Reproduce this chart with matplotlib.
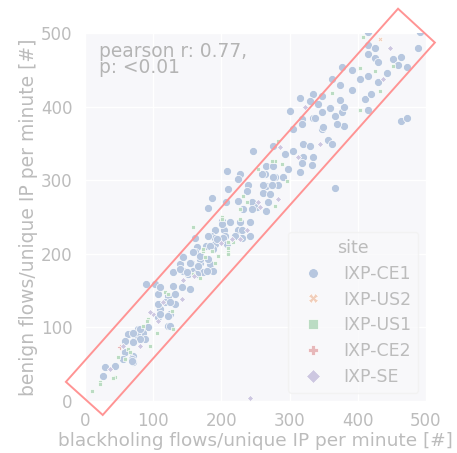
import matplotlib
matplotlib.use("Agg")
import matplotlib.pyplot as plt
import numpy as np
from matplotlib.lines import Line2D

# ---------------- data ----------------
sites = ["IXP-CE1", "IXP-US2", "IXP-US1", "IXP-CE2", "IXP-SE"]

ce1_x = [142,139,156,169,144,129,151,166,90,103,129,142,154,107,122,117,132,110,125,107,122,92,78,85,63,73,88,59,70,44,29,26,69,
         76,110,70,
         247,208,227,224,210,186,181,239,237,224,245,266,264,279,283,266,261,271,268,252,266,201,213,227,191,204,224,161,185,191,205,230,164,178,191,188,161,144,168,183,158,173,188,
         415,491,415,425,488,415,425,430,452,464,459,472,443,430,415,403,391,377,374,391,362,334,347,330,315,342,301,318,334,347,359,377,380,374,366,380,370,347,318,305,410,415,420,463,472,356,362,320,330,276,293,305,320,334,333,318,276,290,298,315,
         337,349,261,274,259,276,367,
         207,232,245,201,242,230,242,220,202,193,180,208,183,168,158,154,166,180,139,149,164,179,
         107,125,132,110,122,125,81,70,81,70,59,69,56]
ce1_y = [197,186,188,188,177,175,172,175,159,159,156,155,152,145,143,134,132,125,118,114,102,100,98,93,91,84,84,66,61,48,46,34,57,
         89,155,53,
         339,312,308,301,288,276,262,294,285,272,270,319,308,305,294,292,283,281,270,263,258,244,243,243,233,233,233,222,224,222,224,222,209,210,213,206,202,195,193,186,177,175,177,
         501,501,484,480,480,471,466,461,464,468,457,454,446,434,441,437,450,454,430,423,437,417,414,407,412,403,394,383,385,392,398,393,400,409,387,373,376,369,376,369,410,396,417,380,385,355,349,349,346,346,335,339,332,332,321,324,305,305,315,311,
         384,372,294,294,308,319,289,
         271,261,261,240,243,233,224,224,222,220,224,213,210,197,202,188,183,193,179,175,172,176,
         132,134,145,118,115,102,98,93,84,80,81,54,57]

us2_x = [433]
us2_y = [492]

us1_x = [173,176,158,169,117,128,92,106,129,48,44,22,10,63,59,41,158,279,289,254,232,227,201,217,210,195,173,210,279,296,408,403,425,452,432,403,362,283,274,
         237,227,201,209,186,209,191,85,95,22,66,122,91]
us1_y = [204,195,172,167,148,122,111,93,98,60,33,26,14,71,57,31,236,326,322,315,278,261,250,216,202,197,206,208,265,299,494,453,448,455,421,396,419,353,326,
         270,247,247,216,204,200,188,102,75,23,66,145,109]

ce2_x = [51]
ce2_y = [73]

se_x = [144,100,37,142,254,256,283,216,237,447,437,323,345,312,286,242,80,160,200,227,114,95,107,56]
se_y = [165,118,43,139,271,264,274,220,233,480,437,399,349,332,345,4,75,170,215,220,134,121,109,75]

band_x = [-28, 459, 513, 26]
band_y = [26, 533, 487, -19]

r_text = "pearson r: 0.77,\np: <0.01"

# ---------------- style ----------------
FADE = 0.4
def fade(c, a=FADE):
    rgb = np.array(matplotlib.colors.to_rgb(c))
    return tuple(1 - a * (1 - rgb))

palette = ["#4c72b0", "#dd8452", "#55a868", "#c44e52", "#8172b3"]
markers = ["o", "X", "s", "P", "D"]
sizes = [34, 14, 12, 14, 10]
txt = "#bcbcbc"

fig = plt.figure(figsize=(4.57, 4.53), dpi=100)
ax = fig.add_axes([85/457, 52/453, 341/457, 368/453])
ax.set_facecolor(fade("#eaeaf2"))
ax.set_xlim(0, 500)
ax.set_ylim(0, 500)
ax.set_xticks([0, 100, 200, 300, 400, 500])
ax.set_yticks([0, 100, 200, 300, 400, 500])
ax.grid(True, color="white", linewidth=1.0)
ax.set_axisbelow(True)
for s in ax.spines.values():
    s.set_visible(False)
ax.tick_params(axis="y", length=0, labelsize=12, labelcolor=txt, pad=9)
ax.tick_params(axis="x", length=0, labelsize=12, labelcolor=txt, pad=8)

data = [(ce1_x, ce1_y), (us2_x, us2_y), (us1_x, us1_y), (ce2_x, ce2_y), (se_x, se_y)]
for i, (xs, ys) in enumerate(data):
    ax.scatter(xs, ys, s=sizes[i], marker=markers[i], color=fade(palette[i]),
               edgecolor="white", linewidth=0.5, zorder=3)

ax.fill(band_x, band_y, facecolor="none", edgecolor=fade("red", 0.42), linewidth=1.4,
        clip_on=False, zorder=4)

ax.text(0.04, 0.975, r_text, transform=ax.transAxes, ha="left", va="top",
        fontsize=13.4, color="#b4b4b4", linespacing=0.82)

ax.set_xlabel("blackholing flows/unique IP per minute [#]", fontsize=13.3, color=txt, labelpad=1)
ax.set_ylabel("benign flows/unique IP per minute [#]", fontsize=13.5, color=txt, labelpad=2)

handles = [Line2D([], [], linestyle="none", marker=markers[i], markersize=7,
                  markerfacecolor=fade(palette[i]), markeredgecolor="white",
                  markeredgewidth=0.5) for i in range(5)]
leg = ax.legend(handles, sites, title="site", loc="lower right", fontsize=12.5,
                title_fontsize=12.5, frameon=True, borderpad=0.4, labelspacing=0.45,
                handlelength=2.0, handletextpad=0.75, borderaxespad=0,
                bbox_to_anchor=(0.9765, 0.022))
leg.get_frame().set_facecolor(fade("#eaeaf2", 0.3))
leg.get_frame().set_edgecolor(fade("#dddddd", 0.4))
for t in leg.get_texts():
    t.set_color(txt)
leg.get_title().set_color(txt)

fig.savefig("out.png", dpi=100)
